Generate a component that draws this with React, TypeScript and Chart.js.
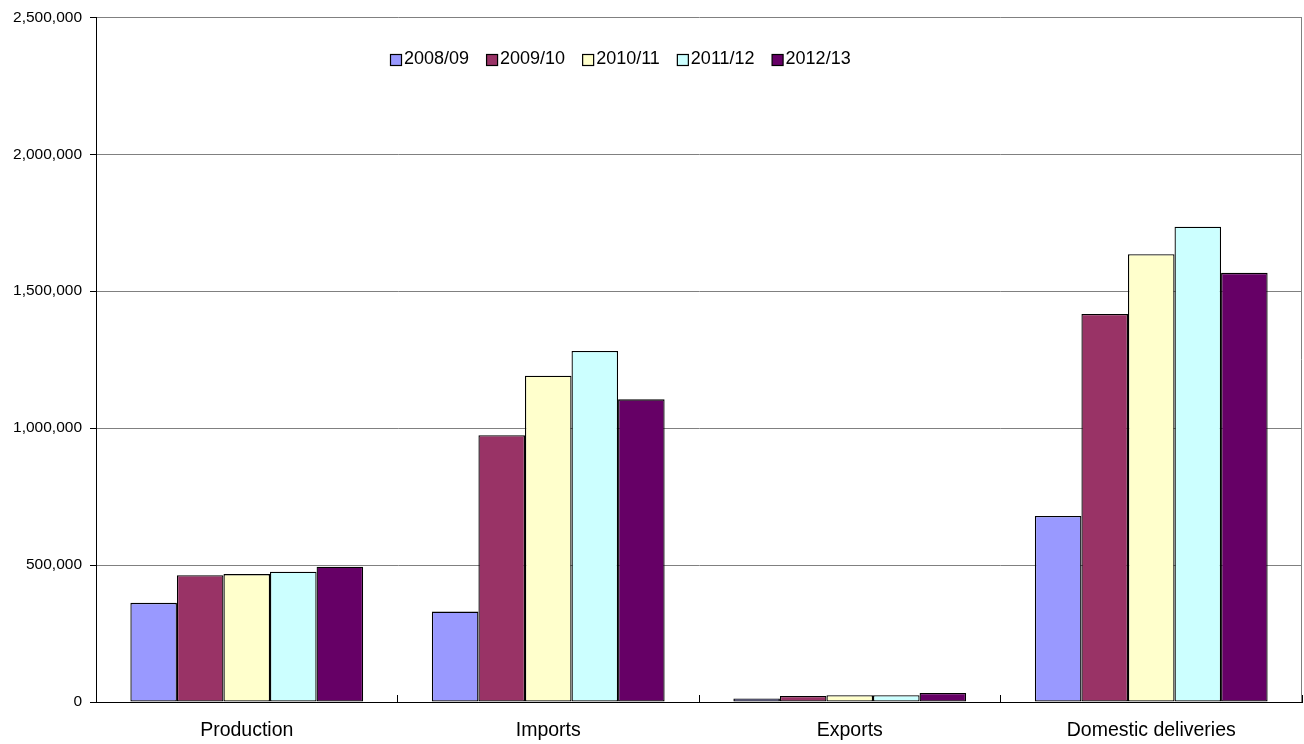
import React, { useEffect, useRef } from 'react';
import { Chart, registerables } from 'chart.js';

Chart.register(...registerables);

const categories = ['Production', 'Imports', 'Exports', 'Domestic deliveries'];
const seriesLabels = ['2008/09', '2009/10', '2010/11', '2011/12', '2012/13'];
const values2008_09 = [362000, 330000, 13000, 679000];
const values2009_10 = [463000, 974000, 22000, 1417000];
const values2010_11 = [467000, 1191000, 25000, 1635000];
const values2011_12 = [476000, 1282000, 25000, 1735000];
const values2012_13 = [494000, 1105000, 33000, 1567000];
const seriesColors = ['#9999FF', '#993366', '#FFFFCC', '#CCFFFF', '#660066'];
const yMin = 0;
const yMax = 2500000;
const yStep = 500000;

const FONT = '"Liberation Sans", Arial, sans-serif';

const insideLegend = {
  id: 'insideLegend',
  afterDraw(chart: any) {
    const ctx = chart.ctx;
    ctx.save();
    ctx.font = `18px ${FONT}`;
    ctx.textBaseline = 'middle';
    ctx.textAlign = 'left';
    const box = 11;
    const textGap = 3;
    const itemGap = 17;
    const cy = 59.5;
    let x = 390;
    chart.data.datasets.forEach((ds: any) => {
      const top = Math.round(cy - box / 2) + 0.5;
      ctx.fillStyle = ds.backgroundColor;
      ctx.fillRect(x + 0.5, top, box, box);
      ctx.strokeStyle = '#000';
      ctx.lineWidth = 1.2;
      ctx.strokeRect(x + 0.5, top, box, box);
      ctx.fillStyle = '#000';
      const tx = x + box + textGap;
      ctx.fillText(ds.label, tx, cy);
      x = tx + ctx.measureText(ds.label).width + itemGap;
    });
    ctx.restore();
  },
};

const rightFrame = {
  id: 'rightFrame',
  afterDraw(chart: any) {
    const { ctx, chartArea } = chart;
    ctx.save();
    ctx.strokeStyle = '#808080';
    ctx.lineWidth = 1;
    ctx.beginPath();
    const x = Math.round(chartArea.right) - 0.5;
    ctx.moveTo(x, chartArea.top);
    ctx.lineTo(x, chartArea.bottom);
    ctx.stroke();
    ctx.restore();
  },
};

export default function App() {
  const ref = useRef<HTMLCanvasElement>(null);

  useEffect(() => {
    if (!ref.current) return;
    const allValues = [values2008_09, values2009_10, values2010_11, values2011_12, values2012_13];
    const chart = new Chart(ref.current, {
      type: 'bar',
      data: {
        labels: categories,
        datasets: seriesLabels.map((label, i) => ({
          label,
          data: allValues[i],
          backgroundColor: seriesColors[i],
          borderColor: '#000000',
          borderWidth: 1.3,
          borderSkipped: false,
          categoryPercentage: 0.772,
          barPercentage: 1,
        })),
      },
      options: {
        responsive: false,
        animation: false,
        layout: { padding: { top: 17, right: 2, bottom: 0, left: 0 } },
        plugins: {
          legend: { display: false },
          tooltip: { enabled: false },
          title: { display: false },
        },
        scales: {
          x: {
            grid: {
              display: true,
              drawOnChartArea: false,
              drawTicks: true,
              tickLength: -7,
              color: '#000000',
              tickColor: (c: any) => (c.index === categories.length ? 'rgba(0,0,0,0)' : '#000000'),
            },
            border: { display: true, color: '#000000', width: 1 },
            ticks: {
              color: '#000000',
              font: { family: FONT, size: 19.5 },
              padding: 24,
              maxRotation: 0,
              autoSkip: false,
            },
            afterFit(scale: any) {
              scale.height = 42;
            },
          },
          y: {
            min: yMin,
            max: yMax,
            grid: {
              color: (c: any) => (c.tick && c.tick.value === 0 ? '#000000' : '#808080'),
              tickColor: '#000000',
              tickLength: 6,
              lineWidth: 1,
            },
            border: { display: true, color: '#000000', width: 1 },
            ticks: {
              stepSize: yStep,
              color: '#000000',
              font: { family: FONT, size: 15.5 },
              padding: 8,
              callback: (v: any) => Number(v).toLocaleString('en-US'),
            },
            afterFit(scale: any) {
              scale.width = 96;
            },
          },
        },
      },
      plugins: [insideLegend, rightFrame],
    });
    return () => chart.destroy();
  }, []);

  return (
    <div style={{ position: 'fixed', left: 0, top: 0, width: 1304, height: 744, background: '#fff' }}>
      <canvas ref={ref} width={1304} height={744} style={{ width: 1304, height: 744, display: 'block' }} />
    </div>
  );
}
